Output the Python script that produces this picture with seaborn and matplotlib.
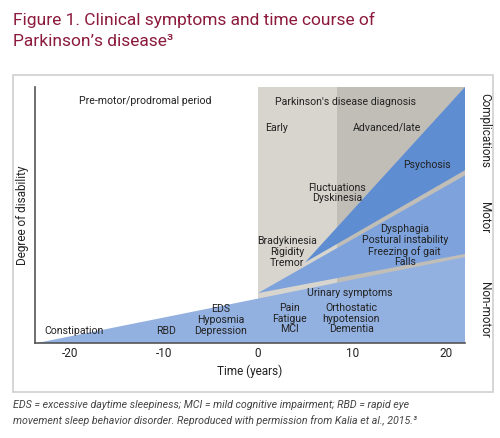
import matplotlib
matplotlib.use("Agg")
import matplotlib.pyplot as plt
import seaborn as sns
from matplotlib.patches import Rectangle

sns.set_theme(style="white")
plt.rcParams['font.family'] = ['Roboto', 'DejaVu Sans']
plt.rcParams['axes.unicode_minus'] = False

# data (years, degree of disability 0-100)
nonmotor_x = [-23.5, 22, 22]
nonmotor_y = [0, 0, 33.5]
motor_x = [0, 22, 22]
motor_y = [19.5, 34.8, 65.5]
compl_x = [5, 22, 22]
compl_y = [31.5, 67.5, 100]
phase_edges = [0, 8.4, 22]
xticks = [-20, -10, 0, 10, 20]
labels = [
    ("Pre-motor/prodromal period", -12, 94.5),
    ("Parkinson's disease diagnosis", 9.3, 94),
    ("Early", 2, 84), ("Advanced/late", 13.7, 84),
    ("Psychosis", 18, 69.5),
    ("Fluctuations\nDyskinesia", 8.4, 58.6),
    ("Bradykinesia\nRigidity\nTremor", 3.1, 35.5),
    ("Dysphagia\nPostural instability\nFreezing of gait\nFalls", 15.6, 38),
    ("Urinary symptoms", 9.8, 19.5),
    ("Orthostatic\nhypotension\nDementia", 9.9, 9.5),
    ("Pain\nFatigue\nMCI", 3.3, 9.5),
    ("EDS\nHyposmia\nDepression", -4, 9),
    ("RBD", -9.8, 4.7),
    ("Constipation", -19.5, 4.7),
]

fig = plt.figure(figsize=(5, 4.38), dpi=100)
fig.patch.set_facecolor("white")
fig.patches.append(Rectangle((13/500, 1-392/438), 480/500, 317/438, transform=fig.transFigure,
                             facecolor="white", edgecolor="#cfcfcf", lw=1.2, zorder=-1))
ax = fig.add_axes([35/500, 1-343/438, (465-35)/500, (343-87)/438])
ax.set_xlim(-23.7, 22)
ax.set_ylim(0, 100)
ax.axvspan(phase_edges[0], phase_edges[1], color="#d8d5ce", lw=0)
ax.axvspan(phase_edges[1], phase_edges[2], color="#c1beb8", lw=0)
ax.fill(nonmotor_x, nonmotor_y, color="#93b1e0", lw=0)
ax.fill(motor_x, motor_y, color="#7da2dc", lw=0)
ax.fill(compl_x, compl_y, color="#5f8dd2", lw=0)
for t, x, y in labels:
    ax.text(x, y, t, ha="center", va="center", fontsize=7.6, color="#222222", linespacing=1.1)
ax.set_xticks(xticks)
ax.set_yticks([])
ax.tick_params(axis="x", labelsize=8.5, length=0, pad=3, colors="#222222")
for s in ["top", "right"]:
    ax.spines[s].set_visible(False)
for s in ["left", "bottom"]:
    ax.spines[s].set_color("#555555")
    ax.spines[s].set_linewidth(1.2)
ax.set_xlabel("Time (years)", fontsize=8.5, color="#222222", labelpad=3)
ax.set_ylabel("Degree of disability", fontsize=8.5, color="#222222", labelpad=4)
for t, y in [("Complications", 83), ("Motor", 49), ("Non-motor", 13)]:
    ax.text(1.045, y/100, t, transform=ax.transAxes, rotation=-90, ha="center", va="center",
            fontsize=8.5, color="#222222")

fig.text(13/500, 1-20/438, "Figure 1. Clinical symptoms and time course of", fontsize=12.5,
         color="#8b1a3c", va="center")
fig.text(13/500, 1-42/438, "Parkinson\u2019s disease\u00b3", fontsize=12.5, color="#8b1a3c", va="center")
fig.text(13/500, 1-405/438, "EDS = excessive daytime sleepiness; MCI = mild cognitive impairment; RBD = rapid eye",
         fontsize=7.7, style="italic", color="#444444", va="center")
fig.text(13/500, 1-421/438, "movement sleep behavior disorder. Reproduced with permission from Kalia et al., 2015.\u00b3",
         fontsize=7.7, style="italic", color="#444444", va="center")
fig.savefig("out.png", dpi=100)
